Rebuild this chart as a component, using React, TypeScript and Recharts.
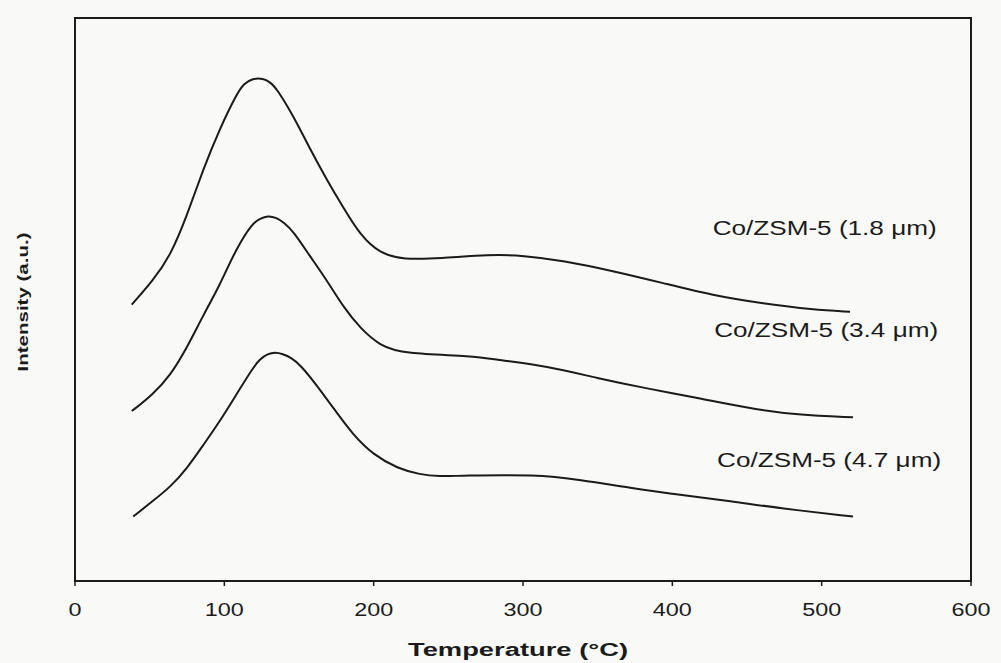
import React from "react";
import {
  LineChart,
  Line,
  XAxis,
  YAxis,
  ReferenceArea,
  ReferenceDot,
} from "recharts";

// TPR profiles
const temp18 = [38, 52, 64, 75, 86, 97, 108, 113, 119, 126, 131, 135, 146, 157, 169, 180, 191, 204, 220, 244, 278, 300, 327, 360, 394, 427, 461, 494, 519];
const int18 = [2.7, 2.93, 3.18, 3.57, 4.03, 4.42, 4.75, 4.86, 4.91, 4.91, 4.87, 4.81, 4.55, 4.23, 3.91, 3.64, 3.38, 3.2, 3.14, 3.15, 3.19, 3.18, 3.13, 3.03, 2.91, 2.79, 2.71, 2.65, 2.63];

const temp34 = [38, 52, 64, 75, 86, 97, 108, 119, 124, 129, 135, 140, 146, 157, 169, 180, 191, 204, 220, 267, 283, 316, 350, 383, 417, 450, 484, 521];
const int34 = [1.66, 1.82, 2.01, 2.28, 2.6, 2.89, 3.25, 3.5, 3.54, 3.57, 3.55, 3.5, 3.42, 3.18, 2.93, 2.67, 2.47, 2.3, 2.22, 2.2, 2.16, 2.1, 1.98, 1.88, 1.79, 1.69, 1.62, 1.6];

const temp47 = [39, 52, 64, 75, 86, 97, 108, 119, 124, 129, 134, 139, 145, 151, 162, 173, 186, 200, 216, 231, 244, 258, 309, 338, 372, 405, 439, 472, 521];
const int47 = [0.63, 0.78, 0.92, 1.1, 1.33, 1.56, 1.82, 2.08, 2.17, 2.22, 2.235, 2.22, 2.18, 2.11, 1.91, 1.69, 1.43, 1.23, 1.1, 1.04, 1.02, 1.03, 1.04, 0.99, 0.91, 0.84, 0.78, 0.71, 0.63];

const xTicks = [0, 100, 200, 300, 400, 500, 600];
const yTicks = [0, 1, 2, 3, 4, 5];

const seriesNames = ["Co/ZSM-5 (1.8 μm)", "Co/ZSM-5 (3.4 μm)", "Co/ZSM-5 (4.7 μm)"];

const ink = "#1b1b1b";
const font = "'Liberation Sans', Arial, sans-serif";

const toRows = (xs: number[], ys: number[]) => xs.map((t, i) => ({ t, v: ys[i] }));

const series = [
  { name: seriesNames[0], data: toRows(temp18, int18), lx: 427, ly: 3.38 },
  { name: seriesNames[1], data: toRows(temp34, int34), lx: 428, ly: 2.38 },
  { name: seriesNames[2], data: toRows(temp47, int47), lx: 430, ly: 1.11 },
];

function XTick({ x, y, payload }: any) {
  const s = String(payload.value);
  return (
    <text
      x={x}
      y={y + 28}
      textAnchor="middle"
      fontFamily={font}
      fontSize={19}
      fill={ink}
      textLength={s.length * 13}
      lengthAdjust="spacingAndGlyphs"
    >
      {s}
    </text>
  );
}

const xTitle = (props: any) => {
  const vb = props.viewBox;
  return (
    <text
      x={vb.x + vb.width / 2 - 5}
      y={vb.y + 75}
      textAnchor="middle"
      fontFamily={font}
      fontWeight="bold"
      fontSize={18}
      fill={ink}
      textLength={220}
      lengthAdjust="spacingAndGlyphs"
    >
      Temperature (°C)
    </text>
  );
};

const yTitle = () => (
  <text
    x={28}
    y={302}
    transform="rotate(-90, 28, 302)"
    textAnchor="middle"
    fontFamily={font}
    fontWeight="bold"
    fontSize={15}
    fill={ink}
    textLength={139}
    lengthAdjust="spacingAndGlyphs"
  >
    Intensity (a.u.)
  </text>
);

const seriesLabel = (text: string) => (props: any) => {
  const vb = props.viewBox;
  return (
    <text
      x={vb.x}
      y={vb.y}
      fontFamily={font}
      fontSize={20}
      fill={ink}
      textLength={224}
      lengthAdjust="spacingAndGlyphs"
    >
      {text}
    </text>
  );
};

export default function App() {
  return (
    <div style={{ position: "absolute", left: 0, top: 0, width: 1001, height: 663, background: "#f9f9f8" }}>
      <LineChart width={1001} height={663} margin={{ top: 18, right: 30, bottom: 32, left: 0 }}>
        <XAxis
          dataKey="t"
          type="number"
          domain={[0, 600]}
          ticks={xTicks}
          allowDataOverflow
          height={50}
          tickSize={5}
          stroke={ink}
          axisLine={{ stroke: ink, strokeWidth: 2 }}
          tickLine={{ stroke: ink, strokeWidth: 1.5 }}
          tick={<XTick />}
          label={xTitle}
        />
        <YAxis
          dataKey="v"
          type="number"
          domain={[0, 5.5]}
          ticks={yTicks}
          allowDataOverflow
          width={75}
          tickSize={5}
          stroke={ink}
          axisLine={{ stroke: ink, strokeWidth: 2 }}
          tickLine={{ stroke: ink, strokeWidth: 1.5 }}
          tick={false}
          label={yTitle}
        />
        <ReferenceArea x1={0} x2={600} y1={0} y2={5.5} fill="none" stroke={ink} strokeWidth={2} />
        {series.map((s) => (
          <Line
            key={s.name}
            data={s.data}
            dataKey="v"
            type="basis"
            stroke={ink}
            strokeWidth={2}
            dot={false}
            isAnimationActive={false}
          />
        ))}
        {series.map((s) => (
          <ReferenceDot
            key={"lbl" + s.name}
            x={s.lx}
            y={s.ly}
            r={0}
            fill="none"
            stroke="none"
            label={seriesLabel(s.name)}
          />
        ))}
      </LineChart>
    </div>
  );
}
